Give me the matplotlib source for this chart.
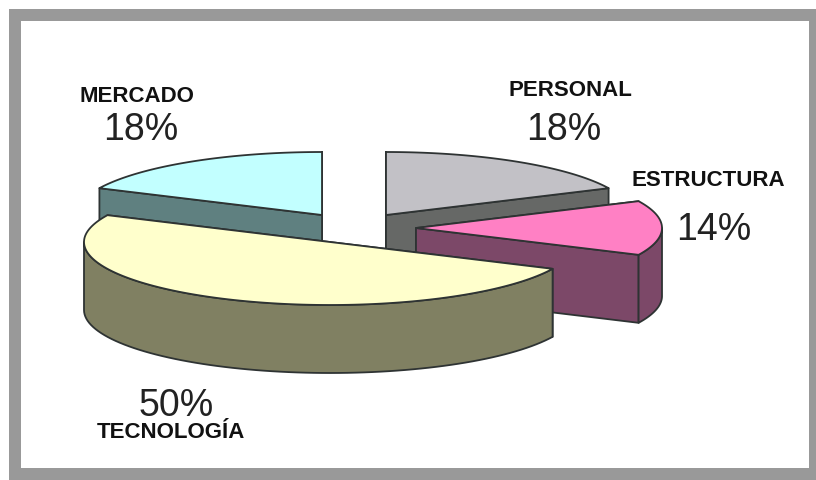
import numpy as np
import matplotlib
matplotlib.use('Agg')
import matplotlib.pyplot as plt
from matplotlib.patches import Polygon, Rectangle

categories = ['PERSONAL', 'ESTRUCTURA', 'TECNOLOGÍA', 'MERCADO']
values = [18, 14, 50, 18]
value_labels = ['18%', '14%', '50%', '18%']

# colores y posicion de cada porcion
top_colors = ['#C2C1C6', '#FF80C4', '#FFFFCC', '#C2FFFF']
side_colors = ['#666866', '#7C4868', '#808062', '#5F8080']
apex = [(386, 215), (416, 228), (330, 242), (322, 215)]
name_pos = [(570, 90), (708, 180), (171, 432), (137, 97)]
pct_pos = [(564, 130), (714, 230), (176, 406), (141, 130)]

RX, RY, DEPTH = 246, 63, 68
EDGE = '#2E3333'

plt.rcParams['font.family'] = ['Liberation Sans', 'DejaVu Sans']
fig = plt.figure(figsize=(8.16, 4.8), dpi=100)
ax = fig.add_axes([0, 0, 1, 1])
ax.set_xlim(0, 816)
ax.set_ylim(480, 0)
ax.axis('off')

# marco gris
ax.add_patch(Rectangle((9, 9), 807, 471, fc='#999999', ec='none'))
ax.add_patch(Rectangle((21, 21), 788, 447, fc='white', ec='none'))


def rim(center, t):
    t = np.radians(t)
    return np.column_stack([center[0] + RX * np.sin(t), center[1] - RY * np.cos(t)])


def shape(pts, color, zorder):
    ax.add_patch(Polygon(pts, closed=True, fc=color, ec=EDGE, lw=1.3,
                         joinstyle='round', zorder=zorder))


angles = np.cumsum([0] + values) * 3.6

# se dibuja de atras hacia adelante
for z, i in enumerate([0, 3, 1, 2]):
    a0, a1 = angles[i], angles[i + 1]
    c = apex[i]
    base = 3 + z * 3

    # paredes radiales
    for a in sorted([a0, a1], key=lambda v: -np.cos(np.radians(v))):
        p = rim(c, np.array([a]))[0]
        shape([c, p, (p[0], p[1] + DEPTH), (c[0], c[1] + DEPTH)], side_colors[i], base)

    # pared exterior, solo la parte de adelante
    lo, hi = max(a0, 90), min(a1, 270)
    if lo < hi:
        arc = rim(c, np.linspace(lo, hi, 80))
        shape(np.vstack([arc, arc[::-1] + [0, DEPTH]]), side_colors[i], base + 1)

    # cara superior
    top = rim(c, np.linspace(a0, a1, 120))
    shape(np.vstack([[c], top]), top_colors[i], base + 2)

for i in range(len(categories)):
    ax.text(*name_pos[i], categories[i], fontsize=16, fontweight='bold',
            color='#111111', ha='center', va='center', zorder=30)
    ax.text(*pct_pos[i], value_labels[i], fontsize=27, color='#222222',
            ha='center', va='center', zorder=30)

fig.savefig('out.png', dpi=100)
